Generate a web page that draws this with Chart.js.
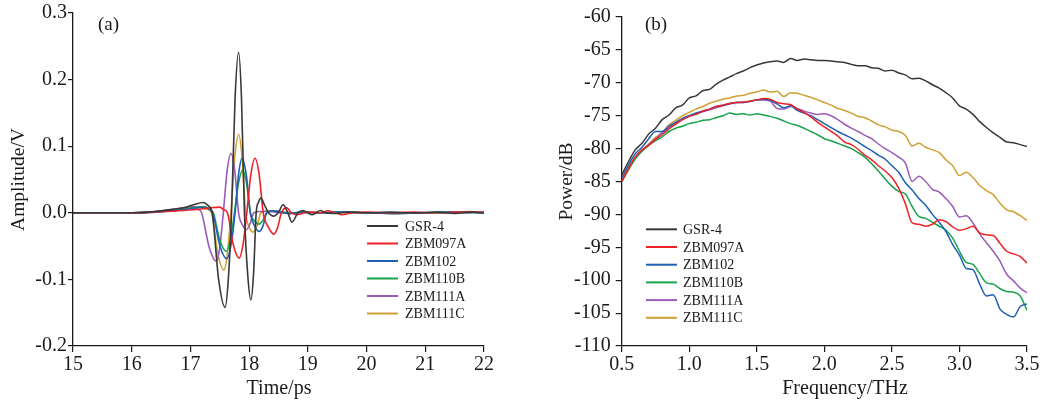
<!DOCTYPE html>
<html><head><meta charset="utf-8">
<script src="https://cdn.jsdelivr.net/npm/chart.js@4.4.1/dist/chart.umd.min.js"></script>
<style>
html,body{margin:0;padding:0;background:#fff;}
#wrap{position:relative;width:1050px;height:403px;overflow:hidden;background:#fff;}
#c1{position:absolute;left:0;top:0;width:520px;height:403px;}
#c2{position:absolute;left:520px;top:0;width:530px;height:403px;}
</style></head><body>
<div id="wrap"><canvas id="c1" width="520" height="403"></canvas><canvas id="c2" width="530" height="403"></canvas></div>
<script>
// ---------- series names and colours ----------
const seriesNames = ['GSR-4', 'ZBM097A', 'ZBM102', 'ZBM110B', 'ZBM111A', 'ZBM111C'];
const seriesColors = ['#383838', '#ee2226', '#1f5fb4', '#17a24c', '#9a5cb8', '#d1a034'];

// ---------- (a) time-domain waveforms: time (ps) and amplitude (V) ----------
const gsrT = [15, 16, 16.3, 16.6, 16.9, 17.05, 17.22, 17.30, 17.37, 17.48, 17.59, 17.645, 17.70, 17.76, 17.82, 17.87, 17.92, 17.975, 18.03, 18.075, 18.12, 18.16, 18.20, 18.26, 18.33, 18.42, 18.50, 18.58, 18.66, 18.73, 18.83, 18.92, 19.0, 19.07, 19.14, 19.21, 19.3, 19.45, 19.7, 20.0, 20.4, 20.8, 21.2, 21.5, 21.8, 22];
const gsrV = [0, 0, 0.001, 0.004, 0.008, 0.012, 0.0155, 0.011, 0, -0.100, -0.142, -0.100, 0, 0.171, 0.241, 0.171, 0, -0.092, -0.131, -0.092, 0, 0.016, 0.022, 0.012, 0, -0.005, 0.001, 0.012, 0, -0.014, 0, 0.0035, 0, -0.003, 0, 0.0035, 0, -0.001, 0.001, 0, 0.001, 0, 0.001, -0.001, 0.001, 0];

const z097T = [15, 16, 16.4, 16.8, 17.1, 17.3, 17.50, 17.56, 17.63, 17.73, 17.83, 17.895, 17.96, 18.03, 18.10, 18.17, 18.24, 18.33, 18.42, 18.485, 18.55, 18.64, 18.72, 18.81, 18.95, 19.1, 19.22, 19.34, 19.46, 19.58, 19.75, 20.0, 20.4, 20.8, 21.2, 21.6, 22];
const z097V = [0, 0, 0.001, 0.003, 0.005, 0.007, 0.0085, 0.005, 0, -0.048, -0.068, -0.048, 0, 0.058, 0.082, 0.058, 0, -0.022, -0.032, -0.022, 0, 0.0075, 0, -0.003, 0, 0.001, 0, 0.003, 0, -0.003, 0, 0.001, 0, 0.001, 0, 0.001, 0.001];

const z102T = [15, 16, 16.4, 16.8, 17.0, 17.15, 17.25, 17.32, 17.38, 17.50, 17.62, 17.69, 17.76, 17.82, 17.88, 17.95, 18.02, 18.095, 18.17, 18.235, 18.30, 18.40, 18.55, 18.7, 18.9, 19.2, 19.6, 20.0, 20.5, 21.0, 21.5, 22];
const z102V = [0, 0, 0.001, 0.004, 0.006, 0.008, 0.008, 0.005, 0, -0.049, -0.069, -0.049, 0, 0.058, 0.082, 0.058, 0, -0.020, -0.028, -0.020, 0, 0.003, 0.001, -0.001, 0.001, 0, 0.001, 0, -0.001, 0, 0.001, 0];

const z110T = [15, 16, 16.4, 16.8, 17.0, 17.15, 17.25, 17.32, 17.39, 17.50, 17.61, 17.68, 17.75, 17.82, 17.89, 17.955, 18.02, 18.09, 18.16, 18.23, 18.30, 18.42, 18.55, 18.7, 18.9, 19.2, 19.6, 20.0, 20.5, 21.0, 21.5, 22];
const z110V = [0, 0, 0.0015, 0.005, 0.007, 0.009, 0.009, 0.006, 0, -0.041, -0.058, -0.041, 0, 0.045, 0.064, 0.045, 0, -0.012, -0.017, -0.012, 0, 0.003, 0.001, -0.001, 0.001, 0, 0.001, 0, -0.001, 0, 0.001, 0];

const z111aT = [15, 16, 16.3, 16.6, 16.85, 17.05, 17.12, 17.19, 17.32, 17.44, 17.50, 17.56, 17.625, 17.69, 17.755, 17.82, 17.885, 17.95, 18.01, 18.08, 18.2, 18.35, 18.5, 18.7, 18.9, 19.2, 19.6, 20.0, 20.5, 21.0, 21.5, 22];
const z111aV = [0, 0, 0.001, 0.004, 0.007, 0.0095, 0.006, 0, -0.052, -0.073, -0.052, 0, 0.063, 0.089, 0.063, 0, -0.018, -0.0255, -0.018, 0, 0.002, 0.002, 0, -0.001, 0.001, 0, 0.001, 0, -0.001, 0, 0.001, 0];

const z111cT = [15, 16, 16.4, 16.8, 17.0, 17.16, 17.26, 17.36, 17.465, 17.57, 17.63, 17.69, 17.755, 17.82, 17.88, 17.94, 18.0, 18.06, 18.13, 18.2, 18.35, 18.5, 18.7, 18.9, 19.2, 19.6, 20.0, 20.5, 21.0, 21.5, 21.75, 22];
const z111cV = [0, 0, 0.0015, 0.005, 0.007, 0.0095, 0.006, 0, -0.061, -0.086, -0.061, 0, 0.083, 0.118, 0.083, 0, -0.021, -0.029, -0.021, 0, 0.003, 0.002, 0, 0.001, 0, 0.001, 0, -0.001, 0, 0.001, 0.002, 0];

// ---------- (b) spectra: frequency (THz) and power (dB) ----------
const freqTHz = [0.50, 0.55, 0.60, 0.65, 0.70, 0.75, 0.80, 0.85, 0.90, 0.95, 1.00, 1.05, 1.10, 1.15, 1.20, 1.25, 1.30, 1.35, 1.40, 1.45, 1.50, 1.55, 1.60, 1.65, 1.70, 1.75, 1.80, 1.85, 1.90, 1.95, 2.00, 2.05, 2.10, 2.15, 2.20, 2.25, 2.30, 2.35, 2.40, 2.45, 2.50, 2.55, 2.60, 2.65, 2.70, 2.75, 2.80, 2.85, 2.90, 2.95, 3.00, 3.05, 3.10, 3.15, 3.20, 3.25, 3.30, 3.35, 3.40, 3.45, 3.50];
const gsrP = [-84.0, -82.0, -80.2, -79.2, -77.8, -76.9, -75.6, -74.9, -73.8, -73.4, -72.3, -72.0, -71.2, -71.0, -70.2, -69.6, -69.1, -68.6, -68.2, -67.7, -67.3, -67.0, -66.8, -66.7, -66.9, -66.3, -66.6, -66.4, -66.5, -66.6, -66.6, -66.7, -66.8, -66.9, -67.2, -67.4, -67.4, -67.7, -67.8, -68.2, -68.1, -68.5, -68.8, -69.4, -69.3, -69.7, -70.3, -70.8, -71.5, -72.3, -73.5, -74.0, -74.8, -75.9, -76.8, -77.6, -78.3, -79.0, -79.1, -79.4, -79.7];
const z097P = [-85.0, -83.0, -81.3, -80.2, -79.5, -78.6, -77.9, -77.0, -76.3, -75.6, -75.1, -74.8, -74.3, -74.0, -73.6, -73.4, -73.1, -73.0, -72.9, -72.8, -72.6, -72.4, -72.5, -73.0, -73.2, -73.3, -74.0, -74.5, -75.2, -76.0, -76.7, -77.4, -78.1, -79.0, -79.4, -80.1, -81.0, -81.7, -82.6, -83.4, -84.4, -86.0, -88.4, -91.3, -91.5, -91.8, -91.5, -90.8, -91.1, -91.9, -92.4, -92.2, -91.8, -92.8, -93.1, -93.2, -94.4, -95.6, -96.0, -96.4, -97.4];
const z102P = [-84.5, -82.5, -80.8, -79.8, -78.5, -77.4, -77.4, -76.6, -76.0, -75.4, -75.0, -74.6, -74.3, -74.0, -73.6, -73.4, -73.2, -73.0, -73.0, -72.8, -72.6, -72.5, -72.7, -73.2, -73.8, -73.5, -74.2, -74.6, -75.0, -75.6, -76.2, -76.8, -77.4, -77.9, -78.4, -79.0, -79.7, -80.3, -81.0, -81.6, -82.6, -83.6, -85.2, -86.3, -87.6, -88.6, -90.0, -91.2, -92.6, -94.6, -96.2, -98.2, -98.4, -100.6, -102.4, -102.2, -104.4, -105.2, -105.6, -104.0, -103.6];
const z110P = [-85.0, -83.2, -81.6, -80.4, -79.5, -78.8, -78.2, -77.4, -76.9, -76.6, -76.2, -76.0, -75.7, -75.6, -75.3, -75.0, -74.6, -74.8, -74.7, -74.9, -74.7, -74.9, -75.1, -75.4, -75.8, -76.2, -76.5, -76.9, -77.4, -77.9, -78.5, -78.8, -79.2, -79.6, -80.0, -80.6, -81.3, -82.3, -83.4, -84.6, -85.7, -86.5, -86.9, -88.8, -90.3, -90.6, -91.2, -91.8, -92.4, -93.6, -95.6, -97.3, -97.6, -99.0, -100.4, -100.6, -101.3, -101.7, -101.8, -102.4, -104.6];
const z111aP = [-85.0, -83.0, -81.3, -80.3, -79.4, -78.5, -77.6, -76.8, -76.2, -75.6, -75.1, -74.7, -74.4, -74.1, -73.8, -73.5, -73.2, -73.0, -73.0, -72.8, -72.6, -72.6, -72.8, -73.9, -74.0, -73.6, -73.9, -74.3, -74.6, -74.8, -74.7, -75.0, -75.6, -76.3, -76.9, -77.4, -78.0, -78.5, -79.3, -80.0, -80.6, -81.3, -82.2, -85.0, -84.2, -85.0, -86.2, -86.6, -87.6, -88.8, -90.4, -90.2, -91.3, -93.0, -94.3, -95.6, -97.1, -99.1, -100.1, -101.2, -101.9];
const z111cP = [-85.0, -83.3, -81.5, -80.3, -79.3, -78.3, -77.5, -76.4, -75.7, -75.0, -74.5, -74.0, -73.6, -73.1, -72.8, -72.5, -72.3, -72.0, -71.9, -71.6, -71.4, -71.1, -71.4, -71.3, -72.1, -71.5, -71.6, -71.9, -72.2, -72.6, -73.0, -73.4, -73.9, -74.2, -74.6, -75.1, -75.3, -75.8, -76.4, -76.7, -77.2, -77.4, -78.0, -79.6, -79.2, -79.8, -80.2, -80.6, -81.7, -82.6, -84.1, -83.6, -84.4, -85.6, -86.4, -87.0, -88.3, -89.3, -89.6, -90.2, -90.9];

// ---------- tick labels ----------
const ampTicks = [-0.2, -0.1, 0.0, 0.1, 0.2, 0.3];
const timeTicks = [15, 16, 17, 18, 19, 20, 21, 22];
const powTicks = [-110, -105, -100, -95, -90, -85, -80, -75, -70, -65, -60];
const freqTicks = [0.5, 1.0, 1.5, 2.0, 2.5, 3.0, 3.5];

const timeSeries = [[gsrT, gsrV], [z097T, z097V], [z102T, z102V], [z110T, z110V], [z111aT, z111aV], [z111cT, z111cV]];
const specSeries = [gsrP, z097P, z102P, z110P, z111aP, z111cP];

const SERIF = "'Liberation Serif', 'Times New Roman', serif";
const INK = '#1a1a1a';

function pairs(xs, ys) { return xs.map((x, i) => ({x: x, y: ys[i]})); }

// custom legend + free texts drawn on the canvas
const decorPlugin = {
  id: 'decor',
  afterDraw(chart, args, opts) {
    const ctx = chart.ctx;
    ctx.save();
    const lg = opts.legend;
    chart.data.datasets.forEach((ds, i) => {
      const y = lg.y0 + i * lg.dy;
      ctx.strokeStyle = ds.borderColor;
      ctx.lineWidth = 2;
      ctx.beginPath(); ctx.moveTo(lg.x0, y); ctx.lineTo(lg.x1, y); ctx.stroke();
      ctx.fillStyle = INK;
      ctx.font = lg.size + 'px ' + SERIF;
      ctx.textAlign = 'left'; ctx.textBaseline = 'middle';
      ctx.fillText(ds.label, lg.tx, y + 1);
    });
    (opts.texts || []).forEach(t => {
      ctx.fillStyle = INK;
      ctx.font = t.size + 'px ' + SERIF;
      ctx.textAlign = t.align; ctx.textBaseline = 'alphabetic';
      ctx.fillText(t.text, t.x, t.y);
    });
    ctx.restore();
  }
};

function axisCommon(tickLen, pad) {
  return {
    grid: {display: true, drawOnChartArea: false, drawTicks: true, tickLength: tickLen, color: INK, lineWidth: 1.2},
    border: {display: true, color: INK, width: 1.3},
  };
}

// ---------- chart (a) ----------
new Chart(document.getElementById('c1'), {
  type: 'line',
  data: {
    datasets: timeSeries.map((s, i) => ({
      label: seriesNames[i], data: pairs(s[0], s[1]),
      borderColor: seriesColors[i], borderWidth: 1.6, pointRadius: 0,
      cubicInterpolationMode: 'monotone', fill: false
    }))
  },
  options: {
    responsive: false, animation: false, devicePixelRatio: 1,
    layout: {padding: {top: 13, right: 36, bottom: 0, left: 0}},
    plugins: {
      legend: {display: false}, tooltip: {enabled: false},
      decor: {
        legend: {x0: 367, x1: 398, tx: 405, y0: 226, dy: 17.5, size: 14},
        texts: [
          {text: '(a)', x: 98, y: 30, size: 19, align: 'left'},
          {text: 'Time/ps', x: 279, y: 394, size: 20, align: 'center'}
        ]
      }
    },
    scales: {
      x: Object.assign(axisCommon(6), {
        type: 'linear', min: timeTicks[0], max: timeTicks[timeTicks.length - 1],
        afterBuildTicks(s) { s.ticks = timeTicks.map(v => ({value: v})); },
        ticks: {font: {family: SERIF, size: 20}, color: INK, padding: 1, maxRotation: 0,
                callback: v => String(v)},
        title: {display: false},
        afterFit(s) { s.height = 57; }
      }),
      y: Object.assign(axisCommon(5), {
        type: 'linear', min: ampTicks[0], max: ampTicks[ampTicks.length - 1],
        afterBuildTicks(s) { s.ticks = ampTicks.map(v => ({value: v})); },
        ticks: {font: {family: SERIF, size: 20}, color: INK, padding: 1,
                callback: v => Number(v).toFixed(1)},
        title: {display: true, text: 'Amplitude/V', color: INK, font: {family: SERIF, size: 19.5},
                padding: {top: 7, bottom: 0}},
        afterFit(s) { s.width = 73; }
      })
    }
  },
  plugins: [decorPlugin]
});

// ---------- chart (b) ----------
new Chart(document.getElementById('c2'), {
  type: 'line',
  data: {
    datasets: specSeries.map((p, i) => ({
      label: seriesNames[i], data: pairs(freqTHz, p),
      borderColor: seriesColors[i], borderWidth: 1.5, pointRadius: 0,
      cubicInterpolationMode: 'monotone', fill: false
    }))
  },
  options: {
    responsive: false, animation: false, devicePixelRatio: 1,
    layout: {padding: {top: 13, right: 23, bottom: 0, left: 0}},
    plugins: {
      legend: {display: false}, tooltip: {enabled: false},
      decor: {
        legend: {x0: 126, x1: 157, tx: 163, y0: 229.3, dy: 17.7, size: 14},
        texts: [
          {text: '(b)', x: 125, y: 30, size: 19, align: 'left'},
          {text: 'Frequency/THz', x: 325, y: 394, size: 20, align: 'center'}
        ]
      }
    },
    scales: {
      x: Object.assign(axisCommon(6), {
        type: 'linear', min: freqTicks[0], max: freqTicks[freqTicks.length - 1],
        afterBuildTicks(s) { s.ticks = freqTicks.map(v => ({value: v})); },
        ticks: {font: {family: SERIF, size: 20}, color: INK, padding: 1, maxRotation: 0,
                callback: v => Number(v).toFixed(1)},
        title: {display: false},
        afterFit(s) { s.height = 57; }
      }),
      y: Object.assign(axisCommon(6), {
        type: 'linear', min: powTicks[0], max: powTicks[powTicks.length - 1],
        afterBuildTicks(s) { s.ticks = powTicks.map(v => ({value: v})); },
        ticks: {font: {family: SERIF, size: 20}, color: INK, padding: 5,
                callback: v => String(v)},
        title: {display: true, text: 'Power/dB', color: INK, font: {family: SERIF, size: 19.5},
                padding: {top: 35, bottom: 0}},
        afterFit(s) { s.width = 101.7; }
      })
    }
  },
  plugins: [decorPlugin]
});
</script>
</body></html>
